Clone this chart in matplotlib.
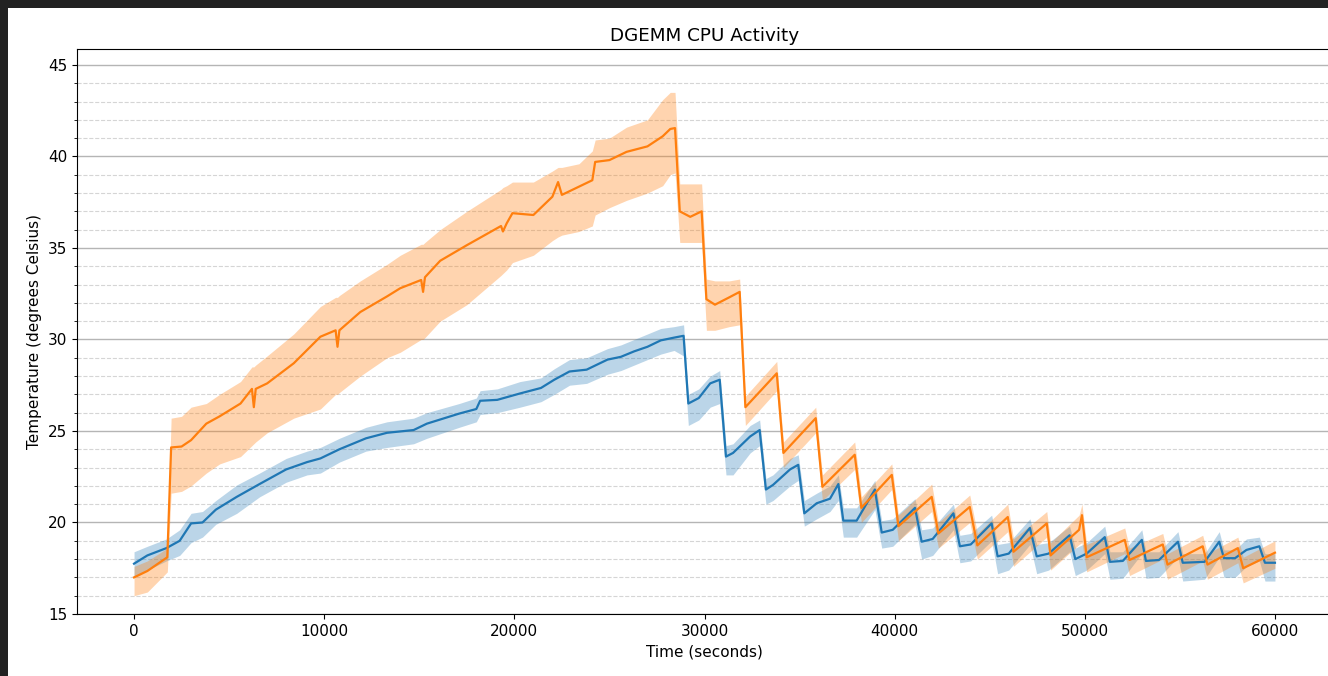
import numpy as np
import matplotlib.pyplot as plt
from matplotlib.patches import Rectangle
from matplotlib.ticker import MultipleLocator

# ---------------------------------------------------------
# data (time in s, temperature in C)
# ---------------------------------------------------------
blue_t = [0, 700, 1700, 2400, 3000, 3600, 4300, 5400, 6600, 8000,
          9100, 9800, 10800, 12200, 13300, 14700, 15400, 17100, 18000, 18200,
          19100, 20300, 21400, 22100, 22900, 23800, 24900, 25600, 26300, 27000,
          27700, 28400, 28900, 29150, 29700, 30300, 30800, 31130, 31500, 32400,
          32900, 33230, 33600, 34500, 34930, 35250, 35900, 36600, 37040, 37300,
          38000, 38960, 39320, 39900, 41070, 41420, 42000, 43090, 43430, 44000,
          45100, 45415, 46000, 47115, 47470, 48100, 49200, 49500, 50100, 51050,
          51320, 52000, 53000, 53215, 53900, 54900, 55150, 56300, 57070, 57320,
          57900, 58500, 59180, 59475, 60000]
blue_mean = [17.75, 18.2, 18.6, 19.0, 19.95, 20.0, 20.7, 21.4, 22.1, 22.9,
             23.3, 23.5, 24.0, 24.6, 24.9, 25.05, 25.4, 25.95, 26.2, 26.65,
             26.7, 27.05, 27.35, 27.8, 28.25, 28.35, 28.9, 29.05, 29.35, 29.6,
             29.95, 30.1, 30.2, 26.5, 26.8, 27.6, 27.8, 23.6, 23.8, 24.7,
             25.05, 21.8, 22.05, 22.9, 23.15, 20.5, 21.05, 21.3, 22.1, 20.1,
             20.1, 21.8, 19.45, 19.6, 20.8, 18.95, 19.1, 20.5, 18.7, 18.8,
             19.95, 18.15, 18.3, 19.7, 18.15, 18.3, 19.3, 18.0, 18.3, 19.2,
             17.85, 17.9, 19.05, 17.9, 17.95, 18.95, 17.8, 17.85, 18.95, 18.05,
             18.05, 18.5, 18.7, 17.8, 17.8]
blue_lo = [17.0, 17.4, 17.9, 18.2, 18.9, 19.2, 19.9, 20.5, 21.4, 22.2,
           22.6, 22.7, 23.3, 23.9, 24.1, 24.3, 24.6, 25.2, 25.5, 25.9,
           26.0, 26.3, 26.6, 27.0, 27.5, 27.6, 28.1, 28.3, 28.6, 28.9,
           29.2, 29.4, 29.1, 25.3, 25.6, 26.3, 26.5, 22.6, 22.6, 23.8,
           24.2, 21.0, 21.2, 22.0, 22.3, 19.8, 20.2, 20.6, 21.2, 19.2,
           19.2, 20.7, 18.6, 18.7, 19.9, 18.0, 18.2, 19.6, 17.8, 17.9,
           19.0, 17.2, 17.4, 18.8, 17.2, 17.4, 18.4, 17.1, 17.4, 18.3,
           16.9, 16.95, 18.3, 16.95, 17.0, 18.1, 16.8, 16.9, 18.1, 17.0,
           17.0, 17.6, 17.9, 16.8, 16.8]
blue_hi = [18.4, 18.7, 19.1, 19.6, 20.5, 20.6, 21.2, 22.05, 22.7, 23.5,
           23.9, 24.1, 24.6, 25.2, 25.5, 25.7, 26.0, 26.5, 26.8, 27.2,
           27.3, 27.7, 27.9, 28.4, 28.9, 29.0, 29.5, 29.7, 30.0, 30.3,
           30.6, 30.7, 30.8, 27.0, 27.3, 28.0, 28.3, 24.2, 24.3, 25.3,
           25.6, 22.4, 22.6, 23.5, 23.7, 21.2, 21.6, 22.0, 22.6, 20.8,
           20.8, 22.3, 20.1, 20.2, 21.3, 19.6, 19.7, 21.0, 19.3, 19.4,
           20.4, 18.8, 18.9, 20.2, 18.8, 18.9, 19.8, 18.6, 18.9, 19.8,
           18.4, 18.4, 19.6, 18.4, 18.4, 19.5, 18.3, 18.3, 19.5, 18.5,
           18.5, 19.1, 19.2, 18.3, 18.3]

orange_t = [0, 700, 1750, 1950, 2500, 3000, 3800, 4500, 5600, 6200,
            6300, 6400, 7000, 8400, 9800, 10600, 10700, 10800, 11900, 13300,
            14000, 15100, 15200, 15300, 16100, 17500, 19300, 19400, 19600, 19900,
            21000, 22000, 22300, 22500, 23400, 24100, 24250, 25000, 25900, 27000,
            27800, 28200, 28450, 28700, 29250, 29850, 30100, 30550, 31300, 31850,
            32150, 33800, 34150, 35850, 36200, 37900, 38250, 39850, 40200, 41950,
            42300, 43950, 44350, 45950, 46250, 48000, 48200, 49700, 49850, 50100,
            52100, 52350, 54100, 54350, 56200, 56450, 58050, 58330, 60000]
orange_mean = [17.0, 17.35, 18.1, 24.1, 24.15, 24.5, 25.4, 25.8, 26.5, 27.3,
               26.3, 27.3, 27.6, 28.7, 30.15, 30.5, 29.6, 30.5, 31.5, 32.35,
               32.8, 33.25, 32.6, 33.4, 34.3, 35.15, 36.2, 35.9, 36.35, 36.9,
               36.8, 37.8, 38.6, 37.9, 38.35, 38.7, 39.7, 39.8, 40.25, 40.55,
               41.1, 41.5, 41.55, 37.0, 36.7, 37.0, 32.2, 31.9, 32.3, 32.6,
               26.3, 28.15, 23.8, 25.7, 21.95, 23.7, 20.8, 22.6, 19.8, 21.4,
               19.4, 20.85, 18.75, 20.3, 18.4, 19.95, 18.2, 19.6, 20.4, 18.1,
               19.05, 17.95, 18.8, 17.7, 18.7, 17.7, 18.6, 17.5, 18.35]
orange_lo = [16.0, 16.2, 17.3, 21.6, 21.7, 22.0, 22.7, 23.2, 23.6, 24.2,
             24.3, 24.4, 24.9, 25.7, 26.2, 27.0, 27.0, 27.1, 28.0, 29.0,
             29.3, 30.0, 30.0, 30.1, 31.0, 31.9, 33.5, 33.6, 33.8, 34.2,
             34.6, 35.4, 35.6, 35.7, 35.9, 36.2, 36.8, 37.2, 37.6, 38.0,
             38.4, 39.0, 39.1, 35.3, 35.3, 35.3, 30.5, 30.5, 30.7, 30.8,
             25.3, 27.2, 23.0, 24.9, 21.2, 22.9, 20.0, 21.8, 19.0, 20.6,
             18.6, 20.0, 18.0, 19.5, 17.6, 19.2, 17.4, 18.8, 18.9, 17.3,
             18.3, 17.1, 18.0, 16.9, 17.9, 16.9, 17.8, 16.7, 17.5]
orange_hi = [17.6, 17.9, 18.6, 25.7, 25.8, 26.3, 26.5, 27.0, 27.7, 28.5,
             28.5, 28.6, 29.1, 30.3, 31.8, 32.3, 32.3, 32.4, 33.2, 34.1,
             34.6, 35.2, 35.2, 35.3, 36.0, 37.0, 38.2, 38.3, 38.4, 38.6,
             38.6, 39.2, 39.4, 39.4, 39.6, 40.3, 40.9, 41.0, 41.6, 42.0,
             43.1, 43.5, 43.5, 38.5, 38.5, 38.5, 33.3, 33.2, 33.2, 33.3,
             26.9, 28.8, 24.4, 26.3, 22.6, 24.4, 21.4, 23.2, 20.4, 22.1,
             20.0, 21.5, 19.4, 21.0, 19.1, 20.6, 18.9, 20.4, 21.0, 18.8,
             19.7, 18.6, 19.4, 18.3, 19.3, 18.3, 19.2, 18.1, 19.0]

# ---------------------------------------------------------
# style
# ---------------------------------------------------------
plt.rcParams.update({
    "font.family": "DejaVu Sans",
    "font.size": 11,
})

blue = "#1f77b4"
orange = "#ff7f0e"

fig = plt.figure(figsize=(13.28, 6.76), dpi=100)
fig.patch.set_facecolor("#222222")
# white canvas inside the dark screenshot border
fig.add_artist(Rectangle((8 / 1328, 0), 1, 1 - 8 / 676,
                         transform=fig.transFigure, facecolor="white",
                         edgecolor="none", zorder=-1))

ax = fig.add_axes([77 / 1328, 1 - 614 / 676, 1255 / 1328, 565 / 676])

ax.fill_between(blue_t, blue_lo, blue_hi, color=blue, alpha=0.3, linewidth=0)
ax.plot(blue_t, blue_mean, color=blue, lw=1.6)
ax.fill_between(orange_t, orange_lo, orange_hi, color=orange, alpha=0.33, linewidth=0)
ax.plot(orange_t, orange_mean, color=orange, lw=1.6)

ax.set_xlim(-3000, 63000)
ax.set_ylim(15, 45.87)
ax.yaxis.set_major_locator(MultipleLocator(5))
ax.yaxis.set_minor_locator(MultipleLocator(1))

ax.set_axisbelow(True)
ax.grid(which="major", axis="y", color="#b5b5b5", linewidth=1.0)
ax.grid(which="minor", axis="y", color="#d5d5d5", linewidth=0.8, linestyle="--")

ax.set_title("DGEMM CPU Activity")
ax.set_xlabel("Time (seconds)")
ax.set_ylabel("Temperature (degrees Celsius)")

fig.savefig("out.png", dpi=100, facecolor=fig.get_facecolor())
